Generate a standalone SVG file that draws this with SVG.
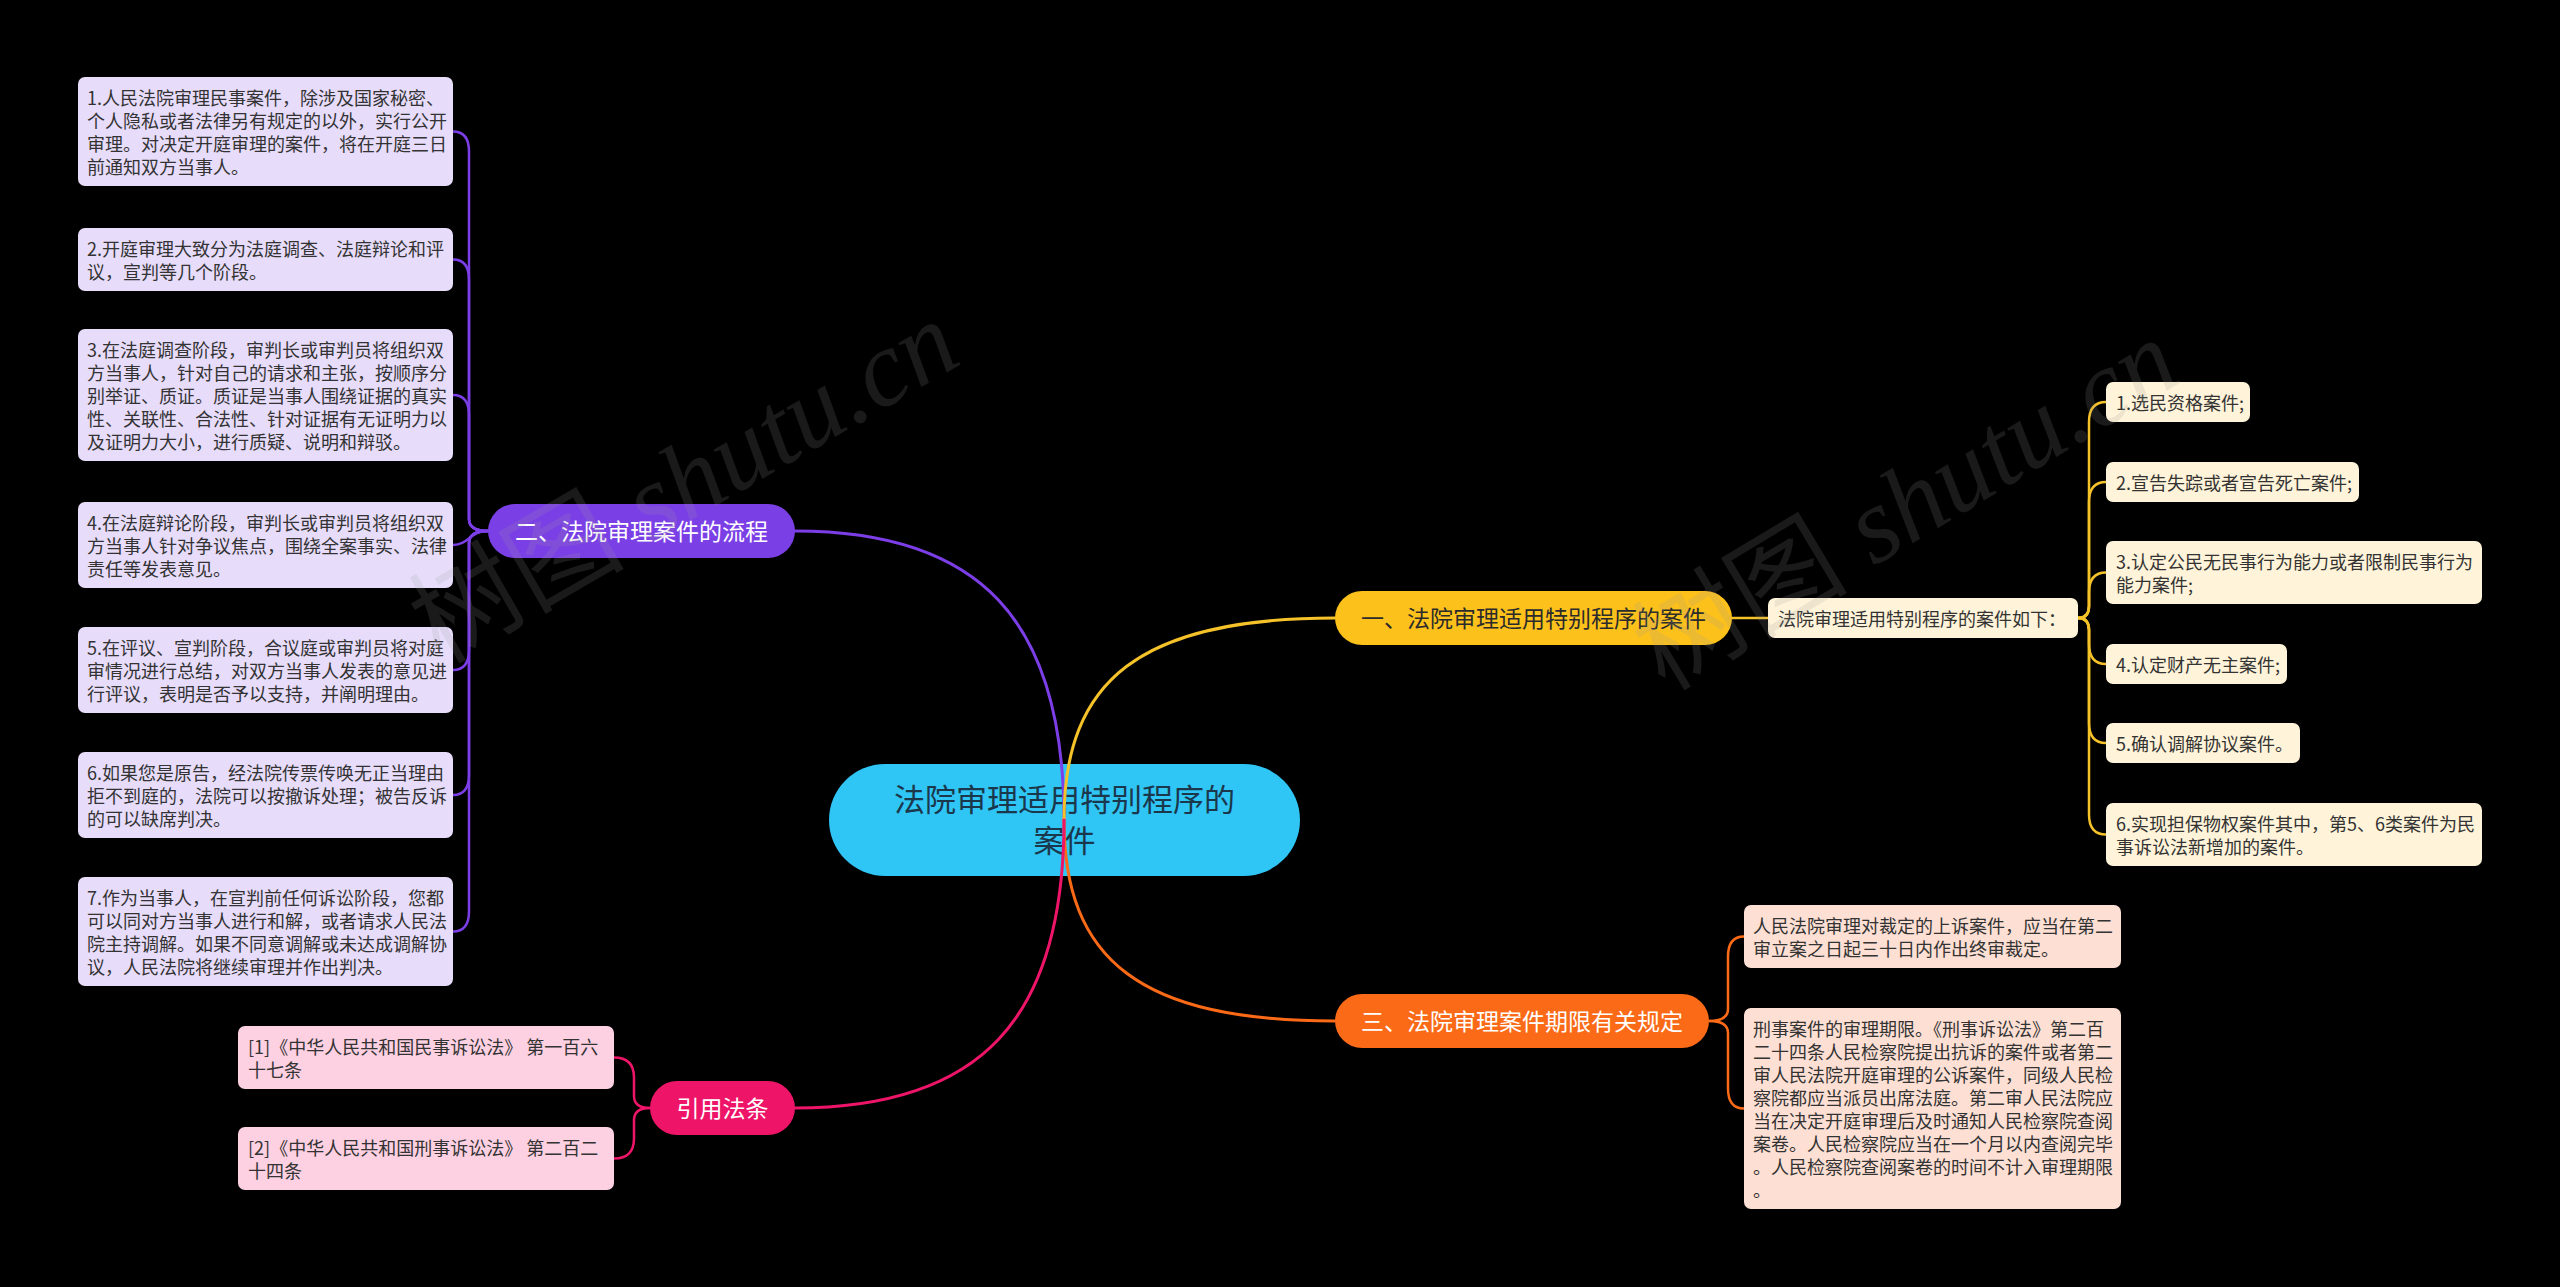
<svg xmlns="http://www.w3.org/2000/svg" width="2560" height="1287" viewBox="0 0 2560 1287">
<style>
text{font-family:"Noto Sans CJK SC","Microsoft YaHei",sans-serif;}
.leaf text{font-size:18px;fill:#333333;}
.br text{font-size:23px;text-anchor:middle;}
.pl rect{fill:#e7dcfa;}
.yl rect{fill:#fff3d9;}
.ol rect{fill:#fde0d3;}
.kl rect{fill:#fdd0e2;}
.c{fill:none;stroke-width:3;stroke-linecap:round;}
.s{fill:none;stroke-width:2.5;stroke-linecap:round;}
.wm{font-family:"Liberation Serif","Noto Sans CJK SC",serif;font-size:108px;fill:#9a9a9a;fill-opacity:0.17;}
</style>
<rect x="0" y="0" width="2560" height="1287" fill="#000000"/>

<g id="center">
<rect x="829" y="764" width="471" height="112" rx="56" fill="#2fc5f5"/>
<text x="1064.5" y="811" font-size="31" text-anchor="middle" fill="#1b374b">法院审理适用特别程序的</text>
<text x="1064.5" y="852" font-size="31" text-anchor="middle" fill="#1b374b">案件</text>
</g>

<g id="connectors">
<path class="c" stroke="#7c3ee6" d="M 1064 820 C 1064 620 980 531 795 531"/>
<path class="c" stroke="#f6c22a" d="M 1064 820 C 1064 680 1140 618 1335 618"/>
<path class="c" stroke="#fb6a17" d="M 1064 820 C 1064 960 1140 1021 1335 1021"/>
<path class="c" stroke="#ee1569" d="M 1064 820 C 1064 1020 980 1108 795 1108"/>
<g stroke="#7c3ee6">
<path class="s" d="M 488 531 Q 469 531 469 519 L 469 151.5 Q 469 131.5 453 131.5"/>
<path class="s" d="M 488 531 Q 469 531 469 519 L 469 279.5 Q 469 259.5 453 259.5"/>
<path class="s" d="M 488 531 Q 469 531 469 519 L 469 415 Q 469 395 453 395"/>
<path class="s" d="M 488 531 C 469 531 469 545 453 545"/>
<path class="s" d="M 488 531 Q 469 531 469 543 L 469 650 Q 469 670 453 670"/>
<path class="s" d="M 488 531 Q 469 531 469 543 L 469 775 Q 469 795 453 795"/>
<path class="s" d="M 488 531 Q 469 531 469 543 L 469 911.5 Q 469 931.5 453 931.5"/>
</g>
<g stroke="#f6c22a">
<path class="s" d="M 1732 618 L 1768 618"/>
<path class="s" d="M 2078 618 Q 2089 618 2089 606 L 2089 422 Q 2089 402 2106 402"/>
<path class="s" d="M 2078 618 Q 2089 618 2089 606 L 2089 502 Q 2089 482 2106 482"/>
<path class="s" d="M 2078 618 Q 2089 618 2089 606 L 2089 592.5 Q 2089 572.5 2106 572.5"/>
<path class="s" d="M 2078 618 Q 2089 618 2089 630 L 2089 644 Q 2089 664 2106 664"/>
<path class="s" d="M 2078 618 Q 2089 618 2089 630 L 2089 723 Q 2089 743 2106 743"/>
<path class="s" d="M 2078 618 Q 2089 618 2089 630 L 2089 814.5 Q 2089 834.5 2106 834.5"/>
</g>
<g stroke="#fb6a17">
<path class="s" d="M 1709 1021 Q 1728 1021 1728 1009 L 1728 956.5 Q 1728 936.5 1744 936.5"/>
<path class="s" d="M 1709 1021 Q 1728 1021 1728 1033 L 1728 1088.5 Q 1728 1108.5 1744 1108.5"/>
</g>
<g stroke="#ee1569">
<path class="s" d="M 650 1108 Q 634 1108 634 1096 L 634 1077.5 Q 634 1057.5 614 1057.5"/>
<path class="s" d="M 650 1108 Q 634 1108 634 1120 L 634 1138.5 Q 634 1158.5 614 1158.5"/>
</g>
</g>

<g id="branch-2" class="br">
<rect x="488" y="504" width="307" height="54" rx="27" fill="#7b3fe6"/>
<text x="641.5" y="539.5" fill="#ffffff">二、法院审理案件的流程</text>
</g>
<g id="branch-1" class="br">
<rect x="1335" y="591" width="397" height="54" rx="27" fill="#fdc11b"/>
<text x="1533.5" y="626.5" fill="#2b2b2b">一、法院审理适用特别程序的案件</text>
</g>
<g id="branch-3" class="br">
<rect x="1335" y="994" width="374" height="54" rx="27" fill="#fb6a17"/>
<text x="1522" y="1029.5" fill="#ffffff">三、法院审理案件期限有关规定</text>
</g>
<g id="branch-4" class="br">
<rect x="650" y="1081" width="145" height="54" rx="27" fill="#ee1569"/>
<text x="722.5" y="1116.5" fill="#ffffff">引用法条</text>
</g>

<g id="p1" class="leaf pl"><rect x="78" y="77" width="375" height="109" rx="7"/>
<text x="87" y="105">1.人民法院审理民事案件，除涉及国家秘密、</text>
<text x="87" y="128">个人隐私或者法律另有规定的以外，实行公开</text>
<text x="87" y="151">审理。对决定开庭审理的案件，将在开庭三日</text>
<text x="87" y="174">前通知双方当事人。</text></g>
<g id="p2" class="leaf pl"><rect x="78" y="228" width="375" height="63" rx="7"/>
<text x="87" y="256">2.开庭审理大致分为法庭调查、法庭辩论和评</text>
<text x="87" y="279">议，宣判等几个阶段。</text></g>
<g id="p3" class="leaf pl"><rect x="78" y="329" width="375" height="132" rx="7"/>
<text x="87" y="357">3.在法庭调查阶段，审判长或审判员将组织双</text>
<text x="87" y="380">方当事人，针对自己的请求和主张，按顺序分</text>
<text x="87" y="403">别举证、质证。质证是当事人围绕证据的真实</text>
<text x="87" y="426">性、关联性、合法性、针对证据有无证明力以</text>
<text x="87" y="449">及证明力大小，进行质疑、说明和辩驳。</text></g>
<g id="p4" class="leaf pl"><rect x="78" y="502" width="375" height="86" rx="7"/>
<text x="87" y="530">4.在法庭辩论阶段，审判长或审判员将组织双</text>
<text x="87" y="553">方当事人针对争议焦点，围绕全案事实、法律</text>
<text x="87" y="576">责任等发表意见。</text></g>
<g id="p5" class="leaf pl"><rect x="78" y="627" width="375" height="86" rx="7"/>
<text x="87" y="655">5.在评议、宣判阶段，合议庭或审判员将对庭</text>
<text x="87" y="678">审情况进行总结，对双方当事人发表的意见进</text>
<text x="87" y="701">行评议，表明是否予以支持，并阐明理由。</text></g>
<g id="p6" class="leaf pl"><rect x="78" y="752" width="375" height="86" rx="7"/>
<text x="87" y="780">6.如果您是原告，经法院传票传唤无正当理由</text>
<text x="87" y="803">拒不到庭的，法院可以按撤诉处理；被告反诉</text>
<text x="87" y="826">的可以缺席判决。</text></g>
<g id="p7" class="leaf pl"><rect x="78" y="877" width="375" height="109" rx="7"/>
<text x="87" y="905">7.作为当事人，在宣判前任何诉讼阶段，您都</text>
<text x="87" y="928">可以同对方当事人进行和解，或者请求人民法</text>
<text x="87" y="951">院主持调解。如果不同意调解或未达成调解协</text>
<text x="87" y="974">议，人民法院将继续审理并作出判决。</text></g>

<g id="y0" class="leaf yl"><rect x="1768" y="598" width="310" height="40" rx="7"/>
<text x="1778" y="626">法院审理适用特别程序的案件如下：</text></g>
<g id="y1" class="leaf yl"><rect x="2106" y="382" width="144" height="40" rx="7"/>
<text x="2116" y="410">1.选民资格案件;</text></g>
<g id="y2" class="leaf yl"><rect x="2106" y="462" width="253" height="40" rx="7"/>
<text x="2116" y="490">2.宣告失踪或者宣告死亡案件;</text></g>
<g id="y3" class="leaf yl"><rect x="2106" y="541" width="376" height="63" rx="7"/>
<text x="2116" y="569">3.认定公民无民事行为能力或者限制民事行为</text>
<text x="2116" y="592">能力案件;</text></g>
<g id="y4" class="leaf yl"><rect x="2106" y="644" width="181" height="40" rx="7"/>
<text x="2116" y="672">4.认定财产无主案件;</text></g>
<g id="y5" class="leaf yl"><rect x="2106" y="723" width="194" height="40" rx="7"/>
<text x="2116" y="751">5.确认调解协议案件。</text></g>
<g id="y6" class="leaf yl"><rect x="2106" y="803" width="376" height="63" rx="7"/>
<text x="2116" y="831">6.实现担保物权案件其中，第5、6类案件为民</text>
<text x="2116" y="854">事诉讼法新增加的案件。</text></g>

<g id="o1" class="leaf ol"><rect x="1744" y="905" width="377" height="63" rx="7"/>
<text x="1753" y="933">人民法院审理对裁定的上诉案件，应当在第二</text>
<text x="1753" y="956">审立案之日起三十日内作出终审裁定。</text></g>
<g id="o2" class="leaf ol"><rect x="1744" y="1008" width="377" height="201" rx="7"/>
<text x="1753" y="1036">刑事案件的审理期限。《刑事诉讼法》第二百</text>
<text x="1753" y="1059">二十四条人民检察院提出抗诉的案件或者第二</text>
<text x="1753" y="1082">审人民法院开庭审理的公诉案件，同级人民检</text>
<text x="1753" y="1105">察院都应当派员出席法庭。第二审人民法院应</text>
<text x="1753" y="1128">当在决定开庭审理后及时通知人民检察院查阅</text>
<text x="1753" y="1151">案卷。人民检察院应当在一个月以内查阅完毕</text>
<text x="1753" y="1174">。人民检察院查阅案卷的时间不计入审理期限</text>
<text x="1753" y="1197">。</text></g>

<g id="k1" class="leaf kl"><rect x="238" y="1026" width="376" height="63" rx="7"/>
<text x="248" y="1054">[1]《中华人民共和国民事诉讼法》 第一百六</text>
<text x="248" y="1077">十七条</text></g>
<g id="k2" class="leaf kl"><rect x="238" y="1127" width="376" height="63" rx="7"/>
<text x="248" y="1155">[2]《中华人民共和国刑事诉讼法》 第二百二</text>
<text x="248" y="1178">十四条</text></g>

<g id="watermarks">
<text class="wm" transform="translate(440 665) rotate(-30)">树图 <tspan font-style="italic">shutu.cn</tspan></text>
<text class="wm" transform="translate(1665 692) rotate(-31)">树图 <tspan font-style="italic">shutu.cn</tspan></text>
</g>
</svg>
